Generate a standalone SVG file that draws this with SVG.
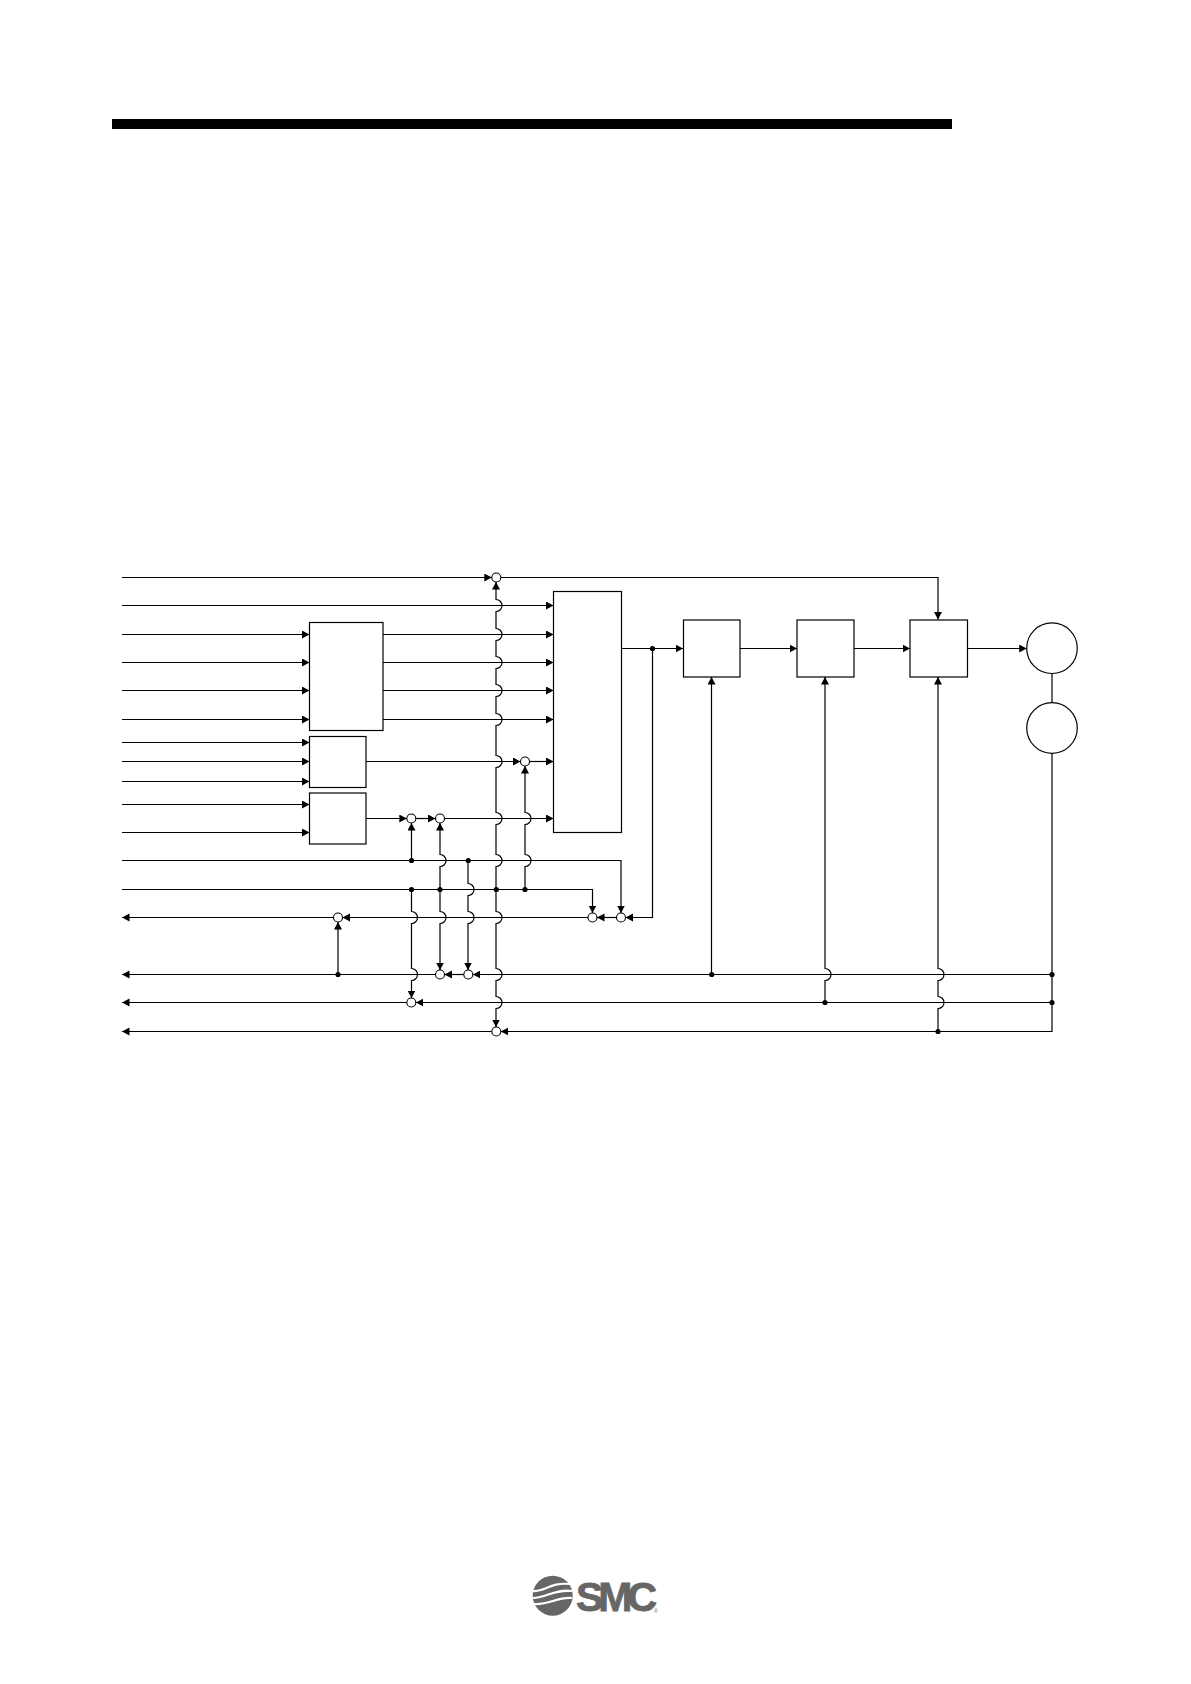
<svg xmlns="http://www.w3.org/2000/svg" width="1191" height="1684" viewBox="0 0 1191 1684">
<style>
.b{fill:#fff;stroke:#000;stroke-width:1.2}
.w{fill:none;stroke:#000;stroke-width:1.2}
.a{marker-end:url(#ah)}
.s{fill:#fff;stroke:#000;stroke-width:1.1}
.d{fill:#000}
</style>
<defs>
<marker id="ah" markerUnits="userSpaceOnUse" markerWidth="9" markerHeight="9" refX="7.5" refY="4" orient="auto"><path d="M0 0L7.5 4L0 8Z" fill="#000"/></marker>
</defs>
<rect width="1191" height="1684" fill="#fff"/>
<rect id="top-bar" x="112" y="119" width="840" height="10" fill="#000"/>
<g id="connectors">
<path class="w a" d="M122 577.5H491.8"/>
<path class="w a" d="M500.7 577.5H938V619.5"/>
<path class="w a" d="M122 605.5H553.5"/>
<path class="w a" d="M122 634.5H309.5"/>
<path class="w a" d="M122 662.5H309.5"/>
<path class="w a" d="M122 690.5H309.5"/>
<path class="w a" d="M122 719.5H309.5"/>
<path class="w a" d="M383 634.5H553.5"/>
<path class="w a" d="M383 662.5H553.5"/>
<path class="w a" d="M383 690.5H553.5"/>
<path class="w a" d="M383 719.5H553.5"/>
<path class="w a" d="M122 742.5H309.5"/>
<path class="w a" d="M122 761.5H309.5"/>
<path class="w a" d="M122 781.5H309.5"/>
<path class="w a" d="M122 804.5H309.5"/>
<path class="w a" d="M122 832.5H309.5"/>
<path class="w a" d="M366 761.5H520.5"/>
<path class="w a" d="M529.5 761.5H553.5"/>
<path class="w a" d="M366 818.5H406.8"/>
<path class="w a" d="M415.8 818.5H435.5"/>
<path class="w a" d="M444.5 818.5H553.5"/>
<path class="w a" d="M122 860.5H621V913"/>
<path class="w a" d="M122 889.5H592.5V913"/>
<path class="w a" d="M652.5 648.5V917.5H625.5"/>
<path class="w a" d="M616.5 917.5H597"/>
<path class="w a" d="M588 917.5H342.5"/>
<path class="w a" d="M333.5 917.5H122"/>
<path class="w a" d="M1052 974.5H472.8"/>
<path class="w a" d="M463.8 974.5H444.5"/>
<path class="w a" d="M435.5 974.5H122"/>
<path class="w a" d="M1052 1002.5H415.8"/>
<path class="w a" d="M406.8 1002.5H122"/>
<path class="w a" d="M1052 753.5V1031.5H500.8"/>
<path class="w a" d="M491.8 1031.5H122"/>
<path class="w" d="M1052 673.5V702.5"/>
<path class="w a" d="M621.5 648.5H683"/>
<path class="w a" d="M740 648.5H797"/>
<path class="w a" d="M854 648.5H910"/>
<path class="w a" d="M967.5 648.5H1026.7"/>
<path class="w a" d="M496 889.5V866.5a6 6 0 0 0 0-12V824.5a6 6 0 0 0 0-12V767.5a6 6 0 0 0 0-12V725.5a6 6 0 0 0 0-12V696.5a6 6 0 0 0 0-12V668.5a6 6 0 0 0 0-12V640.5a6 6 0 0 0 0-12V611.5a6 6 0 0 0 0-12V582"/>
<path class="w a" d="M496 889.5V911.5a6 6 0 0 1 0 12V968.5a6 6 0 0 1 0 12V996.5a6 6 0 0 1 0 12V1027"/>
<path class="w a" d="M525 889.5V866.5a6 6 0 0 0 0-12V824.5a6 6 0 0 0 0-12V766"/>
<path class="w a" d="M440 889.5V866.5a6 6 0 0 0 0-12V823"/>
<path class="w a" d="M440 889.5V911.5a6 6 0 0 1 0 12V970"/>
<path class="w a" d="M468 860.5V883.5a6 6 0 0 1 0 12V911.5a6 6 0 0 1 0 12V970"/>
<path class="w a" d="M411.5 860.5V823"/>
<path class="w a" d="M411.5 889.5V911.5a6 6 0 0 1 0 12V968.5a6 6 0 0 1 0 12V998"/>
<path class="w a" d="M338 974.5V922"/>
<path class="w a" d="M711.5 974.5V677"/>
<path class="w a" d="M825 1002.5V980.5a6 6 0 0 0 0-12V677"/>
<path class="w a" d="M938 1031.5V1008.5a6 6 0 0 0 0-12V980.5a6 6 0 0 0 0-12V677"/>
</g>
<g id="box-a"><rect class="b" x="309.5" y="622.5" width="73.5" height="108"/></g>
<g id="box-b"><rect class="b" x="309.5" y="736.5" width="56.5" height="51"/></g>
<g id="box-c"><rect class="b" x="309.5" y="793" width="56.5" height="51"/></g>
<g id="block-main"><rect class="b" x="553.5" y="591.5" width="68" height="241"/></g>
<g id="box-d"><rect class="b" x="683.5" y="620" width="56.5" height="57"/></g>
<g id="box-e"><rect class="b" x="797" y="620" width="57" height="57"/></g>
<g id="box-f"><rect class="b" x="910" y="620" width="57.5" height="57"/></g>
<g id="motor"><circle class="b" cx="1052" cy="648.2" r="25.3"/></g>
<g id="encoder"><circle class="b" cx="1052" cy="728" r="25.3"/></g>
<g id="summing">
<circle class="s" cx="496.3" cy="577.5" r="4.5"/>
<circle class="s" cx="525" cy="761.5" r="4.5"/>
<circle class="s" cx="411.3" cy="818.5" r="4.5"/>
<circle class="s" cx="440" cy="818.5" r="4.5"/>
<circle class="s" cx="338" cy="917.5" r="4.5"/>
<circle class="s" cx="592.5" cy="917.5" r="4.5"/>
<circle class="s" cx="621" cy="917.5" r="4.5"/>
<circle class="s" cx="440" cy="974.5" r="4.5"/>
<circle class="s" cx="468.3" cy="974.5" r="4.5"/>
<circle class="s" cx="411.3" cy="1002.5" r="4.5"/>
<circle class="s" cx="496.3" cy="1031.5" r="4.5"/>
</g>
<g id="junctions">
<circle class="d" cx="652.5" cy="648.5" r="2.6"/>
<circle class="d" cx="411.5" cy="860.5" r="2.6"/>
<circle class="d" cx="468.3" cy="860.5" r="2.6"/>
<circle class="d" cx="411.5" cy="889.5" r="2.6"/>
<circle class="d" cx="440" cy="889.5" r="2.6"/>
<circle class="d" cx="496.3" cy="889.5" r="2.6"/>
<circle class="d" cx="525" cy="889.5" r="2.6"/>
<circle class="d" cx="338" cy="974.5" r="2.6"/>
<circle class="d" cx="711.7" cy="974.5" r="2.6"/>
<circle class="d" cx="1052" cy="974.5" r="2.6"/>
<circle class="d" cx="825" cy="1002.5" r="2.6"/>
<circle class="d" cx="1052" cy="1002.5" r="2.6"/>
<circle class="d" cx="938" cy="1031.5" r="2.6"/>
</g>
<g id="logo">
<circle cx="552.7" cy="1595.7" r="20" fill="#666"/>
<path d="M533 1591C545 1592 550 1582 570 1584M533 1598C547 1598 553 1589 572 1591M534 1604C550 1605 556 1597 572 1598" fill="none" stroke="#fff" stroke-width="2.2"/>
<text x="576" y="1611" font-family="'Liberation Sans',Arial,sans-serif" font-weight="700" font-size="41" letter-spacing="-5" fill="#666" stroke="#666" stroke-width="0.8">SMC</text>
<text x="654" y="1613" font-family="'Liberation Sans',Arial,sans-serif" font-size="5" fill="#666">®</text>
</g>
</svg>
